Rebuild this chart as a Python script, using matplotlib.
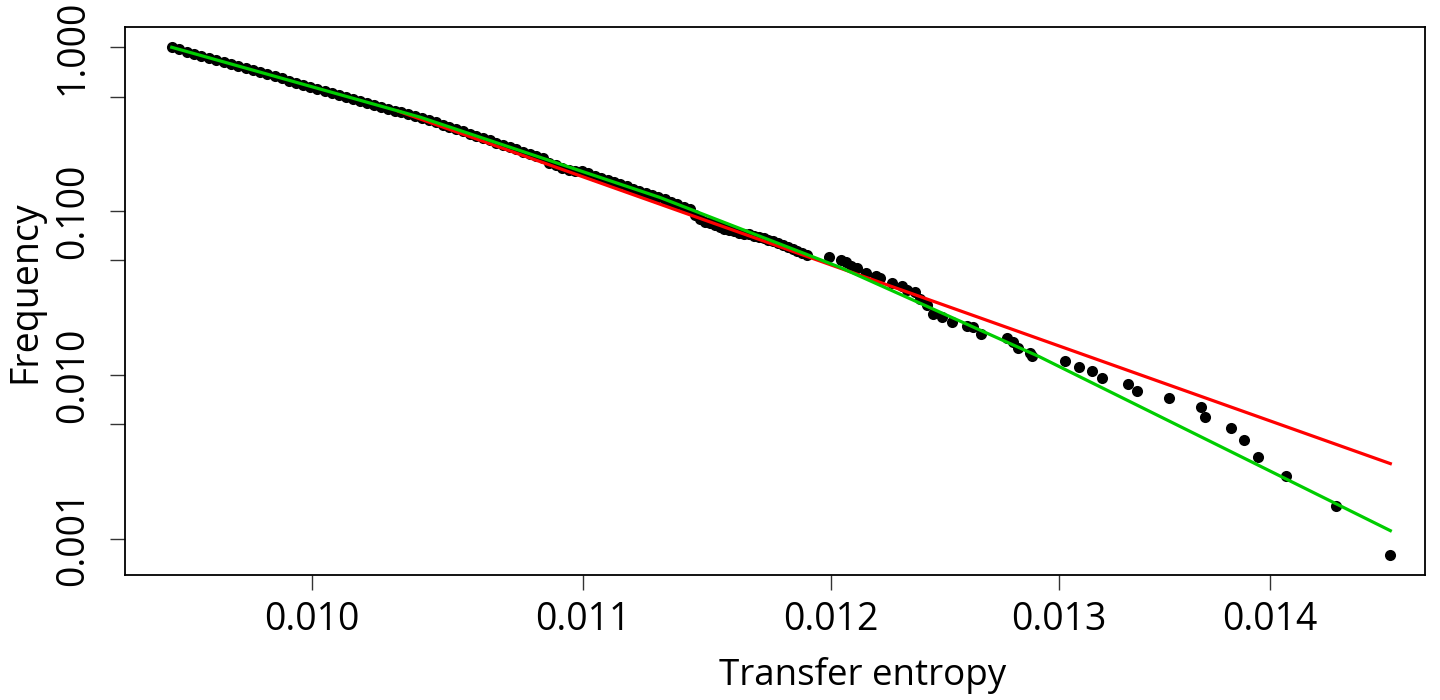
import numpy as np
import matplotlib.pyplot as plt

plt.rcParams['font.family'] = ['Open Sans', 'DejaVu Sans']

# empirical CCDF of transfer entropy (points)
te = [0.009520, 0.009545, 0.009570, 0.009595, 0.009620, 0.009645, 0.009670, 0.009695,
      0.009720, 0.009745, 0.009770, 0.009795, 0.009820, 0.009845, 0.009870, 0.009895,
      0.009920, 0.009945, 0.009970, 0.009995, 0.010020, 0.010045, 0.010070, 0.010095,
      0.010120, 0.010145, 0.010170, 0.010195, 0.010220, 0.010245, 0.010270, 0.010295,
      0.010320, 0.010345, 0.010370,
      0.010395, 0.010420, 0.010445, 0.010470, 0.010495, 0.010520, 0.010545, 0.010570,
      0.010595, 0.010620, 0.010645, 0.010670, 0.010695, 0.010720, 0.010745, 0.010770,
      0.010795, 0.010820, 0.010845, 0.010870, 0.010895, 0.010920, 0.010945, 0.010970,
      0.010995, 0.011020, 0.011045, 0.011070, 0.011095, 0.011120, 0.011145, 0.011170,
      0.011195, 0.011220, 0.011245, 0.011270, 0.011295,
      0.011320, 0.011345, 0.011370, 0.011395,
      0.01142, 0.01144, 0.01146, 0.01148, 0.01150, 0.01152, 0.01154, 0.01156,
      0.01158, 0.01160, 0.01162, 0.01164, 0.01166, 0.01168, 0.01170, 0.01172,
      0.01174, 0.01176, 0.01178, 0.01180, 0.01182, 0.01184, 0.01186, 0.01188, 0.01190,
      0.011991, 0.012045, 0.012066, 0.012087, 0.012109, 0.012151, 0.012194, 0.012207,
      0.012259, 0.012302, 0.012324, 0.012358, 0.012380, 0.012411, 0.012437, 0.012476,
      0.012520, 0.012586, 0.012613, 0.012648, 0.012764, 0.012791, 0.012814, 0.012868,
      0.012877, 0.013027, 0.013095, 0.013155, 0.013201, 0.013318, 0.013364, 0.013515,
      0.013668, 0.013687, 0.013813, 0.013876, 0.013945, 0.014080, 0.014331, 0.014606]
freq = [1.000, 0.9707, 0.9423, 0.9148, 0.8882, 0.8624, 0.8374, 0.8132,
        0.7898, 0.7671, 0.7451, 0.7238, 0.7032, 0.6832, 0.6638, 0.6450,
        0.6268, 0.6091, 0.5920, 0.5754, 0.5594, 0.5438, 0.5286, 0.5140,
        0.4997, 0.4859, 0.4725, 0.4595, 0.4470, 0.4347, 0.4229, 0.4113,
        0.4002, 0.3893, 0.3788,
        0.3712, 0.3594, 0.3481, 0.3371, 0.3265, 0.3163, 0.3064, 0.2968,
        0.2876, 0.2786, 0.2700, 0.2616, 0.2535, 0.2457, 0.2382, 0.2308,
        0.2238, 0.2170, 0.2104, 0.1958, 0.1899, 0.1841, 0.1786, 0.1768,
        0.1750, 0.1698, 0.1647, 0.1598, 0.1550, 0.1504, 0.1459, 0.1416,
        0.1374, 0.1334, 0.1295, 0.1257, 0.1220,
        0.1180, 0.1140, 0.1102, 0.1065,
        0.1029, 0.0952, 0.0897, 0.0864, 0.0841, 0.0818, 0.0796, 0.0775,
        0.0771, 0.0751, 0.0731, 0.0727, 0.0725, 0.0708, 0.0692, 0.0688,
        0.0670, 0.0653, 0.0636, 0.0619, 0.0603, 0.0588, 0.0572, 0.0557, 0.0543,
        0.0522, 0.0500, 0.0486, 0.0460, 0.0447, 0.0422, 0.0399, 0.0388,
        0.0362, 0.0347, 0.0332, 0.0319, 0.0289, 0.0269, 0.0234, 0.0227,
        0.0209, 0.0200, 0.0195, 0.0177, 0.0169, 0.0158, 0.0147, 0.0137,
        0.0130, 0.0121, 0.01125, 0.0105, 0.00964, 0.00886, 0.00803, 0.00728,
        0.00641, 0.00557, 0.00477, 0.00398, 0.00317, 0.00240, 0.00159, 0.00080]

# power-law fit (red)
pl_x = [0.01031, 0.014606]
pl_y = [0.4064, 0.002876]

# log-normal fit (green)
ln_x = [0.00952, 0.01039, 0.01130, 0.01204, 0.01291, 0.014606]
ln_y = [1.0, 0.3736, 0.1213, 0.0453, 0.01296, 0.001121]

xticks = [0.010, 0.011, 0.012, 0.013, 0.014]
yticks = [0.001, 0.005, 0.01, 0.05, 0.1, 0.5, 1.0]
ylabels = ['0.001', '', '0.010', '', '0.100', '', '1.000']

fig = plt.figure(figsize=(14.4, 7), dpi=100)
ax = fig.add_axes([125/1440, 125/700, 1300/1440, 548/700])

ax.plot(te, freq, 'o', color='black', ms=8, mew=0, zorder=2)
ax.plot(pl_x, pl_y, color='#ff0000', lw=2.3, zorder=3)
ax.plot(ln_x, ln_y, color='#00cd00', lw=2.3, zorder=4)

ax.set_xscale('log')
ax.set_yscale('log')
ax.set_xlim(0.009365, 0.014785)
ax.set_ylim(0.000601, 1.33)

ax.set_xticks(xticks)
ax.set_xticklabels(['%.3f' % t for t in xticks])
ax.set_yticks(yticks)
ax.set_yticklabels(ylabels, rotation=90, va='center')
ax.minorticks_off()

ax.tick_params(axis='both', direction='out', length=11, width=1.0, color='#333333',
               labelsize=27)
ax.tick_params(axis='x', pad=8)
ax.tick_params(axis='y', pad=13)
for s in ax.spines.values():
    s.set_linewidth(1.3)

fig.text(863/1440, 1 - 676/700, 'Transfer entropy', ha='center', va='center', fontsize=26.5)
fig.text(25/1440, 1 - 292/700, 'Frequency', ha='center', va='center', rotation=90, fontsize=27)

plt.savefig('out.png', dpi=100)
